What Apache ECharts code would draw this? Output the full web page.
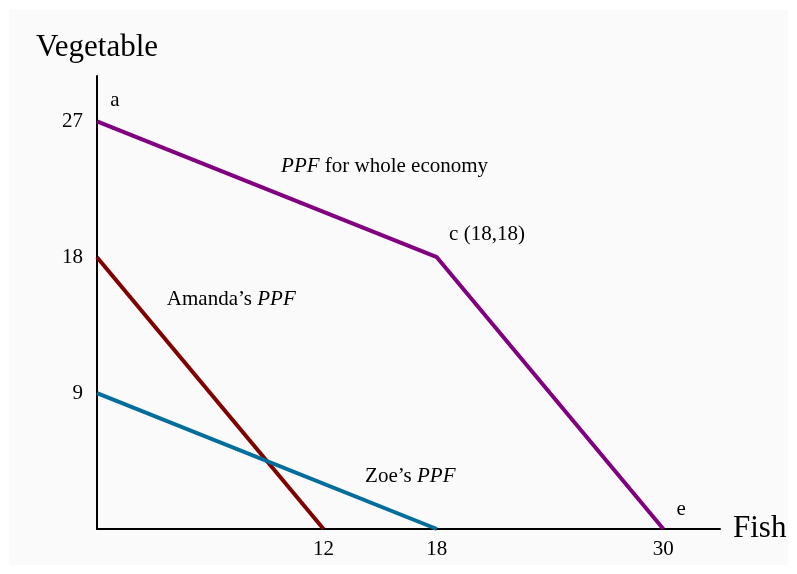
<!DOCTYPE html>
<html>
<head>
<meta charset="utf-8">
<script src="https://cdn.jsdelivr.net/npm/echarts@6/dist/echarts.min.js"></script>
<style>
  html, body { margin: 0; padding: 0; background: #fff; }
  #chart { width: 797px; height: 574px; }
</style>
</head>
<body>
<div id="chart"></div>
<script>
  // PPF lines (fish, vegetable)
  const wholeEconomy = [[0, 27], [18, 18], [30, 0]];
  const amanda = [[0, 18], [12, 0]];
  const zoe = [[0, 9], [18, 0]];

  const xTickLabels = [12, 18, 30];
  const yTickLabels = [9, 18, 27];

  // annotation text and where it sits (data space)
  const notes = [
    { value: [0.7, 28.4], text: 'a' },
    { value: [9.75, 24.0], text: '{i|PPF} for whole economy' },
    { value: [18.65, 19.5], text: 'c (18,18)' },
    { value: [3.7, 15.2], text: 'Amanda\u2019s {i|PPF}' },
    { value: [14.2, 3.5], text: 'Zoe\u2019s {i|PPF}' },
    { value: [30.7, 1.3], text: 'e' }
  ];

  const serif = '"Liberation Serif", "DejaVu Serif", serif';
  const myChart = echarts.init(document.getElementById('chart'));

  myChart.setOption({
    animation: false,
    backgroundColor: '#fff',
    graphic: [{
      type: 'rect',
      shape: { x: 9, y: 10, width: 779, height: 555 },
      style: { fill: '#fafafa' },
      z: -10
    }],
    grid: { left: 97, right: 77, top: 76, bottom: 45 },
    xAxis: {
      type: 'value',
      min: 0, max: 33, interval: 6,
      name: 'Fish',
      nameLocation: 'end',
      nameGap: 13,
      nameTextStyle: { fontFamily: serif, fontSize: 31, color: '#000' },
      splitLine: { show: false },
      axisTick: { show: false },
      axisLine: { lineStyle: { color: '#000', width: 2 } },
      axisLabel: {
        fontFamily: serif, fontSize: 21, color: '#000', margin: 10,
        showMaxLabel: false,
        formatter: v => xTickLabels.includes(v) ? String(v) : ''
      }
    },
    yAxis: {
      type: 'value',
      min: 0, max: 30, interval: 9,
      name: 'Vegetable',
      nameLocation: 'end',
      nameGap: 13,
      nameTextStyle: { fontFamily: serif, fontSize: 31, color: '#000', align: 'center' },
      splitLine: { show: false },
      axisTick: { show: false },
      axisLine: { lineStyle: { color: '#000', width: 2 } },
      axisLabel: {
        fontFamily: serif, fontSize: 21, color: '#000', margin: 14,
        showMaxLabel: false,
        formatter: v => yTickLabels.includes(v) ? String(v) : ''
      }
    },
    series: [
      {
        type: 'line', data: wholeEconomy, symbol: 'none',
        lineStyle: { color: '#800080', width: 4 }
      },
      {
        type: 'line', data: amanda, symbol: 'none',
        lineStyle: { color: '#800000', width: 4 }
      },
      {
        type: 'line', data: zoe, symbol: 'none',
        lineStyle: { color: '#006d9c', width: 4 }
      },
      {
        type: 'scatter',
        symbolSize: 0,
        silent: true,
        itemStyle: { opacity: 1 },
        data: notes.map(n => ({ value: n.value, name: n.text })),
        label: {
          show: true,
          position: 'right',
          distance: 0,
          opacity: 1,
          formatter: p => p.name,
          fontFamily: serif, fontSize: 21, color: '#000',
          rich: { i: { fontFamily: serif, fontSize: 21, fontStyle: 'italic', color: '#000' } }
        }
      }
    ]
  });
</script>
</body>
</html>
